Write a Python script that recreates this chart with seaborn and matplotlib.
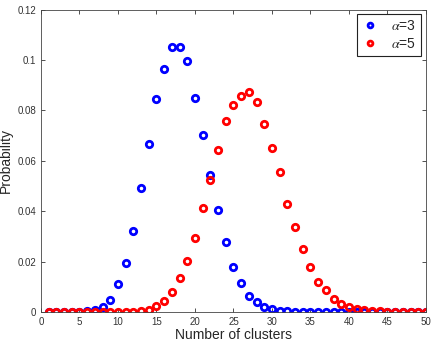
import numpy as np
import pandas as pd
import seaborn as sns
import matplotlib.pyplot as plt

# number of clusters
clusters = list(range(1, 51))

# alpha = 3
prob_a3 = [0.0, 0.0, 0.0, 0.0, 0.0001, 0.0003, 0.0009, 0.0022, 0.0049, 0.0111,
           0.0195, 0.0322, 0.0491, 0.0667, 0.0845, 0.0966, 0.1053, 0.1053, 0.0998, 0.0849,
           0.0702, 0.0544, 0.0404, 0.0277, 0.0181, 0.0117, 0.0066, 0.0040, 0.0020, 0.0013,
           0.0006, 0.0003, 0.0002, 0.0001, 0.0001, 0.0, 0.0, 0.0, 0.0, 0.0,
           0.0, 0.0, 0.0, 0.0, 0.0, 0.0, 0.0, 0.0, 0.0, 0.0]

# alpha = 5
prob_a5 = [0.0, 0.0, 0.0, 0.0, 0.0, 0.0, 0.0, 0.0, 0.0, 0.0,
           0.0001, 0.0002, 0.0005, 0.0010, 0.0024, 0.0045, 0.0079, 0.0135, 0.0203, 0.0296,
           0.0412, 0.0525, 0.0644, 0.0760, 0.0821, 0.0858, 0.0874, 0.0833, 0.0745, 0.0652,
           0.0556, 0.0428, 0.0339, 0.0251, 0.0178, 0.0121, 0.0087, 0.0051, 0.0033, 0.0021,
           0.0012, 0.0009, 0.0005, 0.0003, 0.0002, 0.0001, 0.0001, 0.0001, 0.0001, 0.0001]

labels = [r"$\alpha$=3", r"$\alpha$=5"]
colors = ["#0000ff", "#ff0000"]

df = pd.DataFrame({
    "x": clusters * 2,
    "p": prob_a3 + prob_a5,
    "series": [labels[0]] * len(clusters) + [labels[1]] * len(clusters),
})

sns.set_style("ticks")
plt.rcParams["font.family"] = ["Liberation Sans", "DejaVu Sans"]
plt.rcParams["mathtext.fontset"] = "stix"

fig = plt.figure(figsize=(4.36, 3.42), dpi=100)
ax = fig.add_axes([0.094, 0.087, 0.883, 0.885])

for lab, col in zip(labels, colors):
    sub = df[df["series"] == lab]
    ax.plot(sub["x"], sub["p"], linestyle="none", marker="o", markersize=4.6,
            markerfacecolor="none", markeredgecolor=col, markeredgewidth=2.0,
            label=lab)

ax.set_xlim(0, 50)
ax.set_ylim(0, 0.12)
ax.set_xticks(range(0, 51, 5))
ax.set_yticks([0, 0.02, 0.04, 0.06, 0.08, 0.1, 0.12])
ax.set_yticklabels(["0", "0.02", "0.04", "0.06", "0.08", "0.1", "0.12"])
ax.tick_params(direction="in", length=3, labelsize=7, top=True, right=True,
               width=0.6, colors="#333333")
for s in ax.spines.values():
    s.set_linewidth(0.6)
    s.set_color("#444444")
ax.set_xlabel("Number of clusters", fontsize=10, labelpad=1)
ax.set_ylabel("Probability", fontsize=10, labelpad=3)

leg = ax.legend(loc="upper right", fontsize=10, frameon=True, fancybox=False,
                markerscale=0.75, handlelength=1.2, handletextpad=0.9,
                borderaxespad=0.35, borderpad=0.35, labelspacing=0.25)
leg.get_frame().set_edgecolor("#222222")
leg.get_frame().set_linewidth(0.8)
leg.get_frame().set_alpha(1)

fig.savefig("out.png", dpi=100)
